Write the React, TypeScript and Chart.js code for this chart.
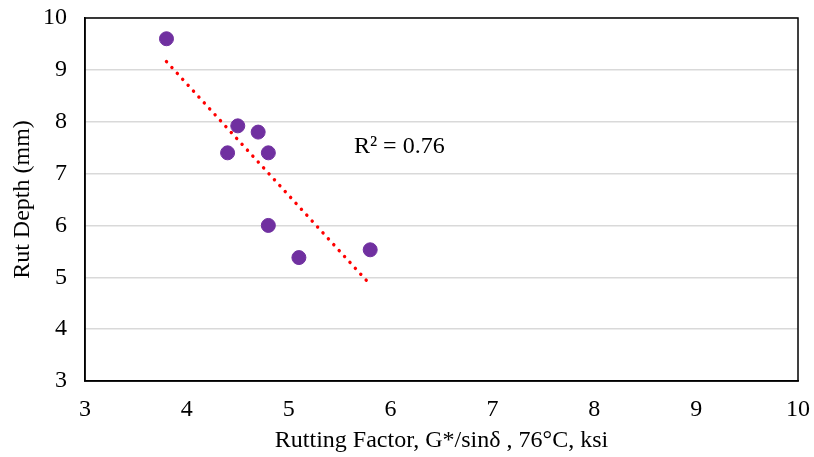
import React, { useEffect, useRef } from "react";
import { Chart, registerables } from "chart.js";

Chart.register(...registerables);

const rutFactor = [3.8, 4.5, 4.7, 4.4, 4.8, 4.8, 5.1, 5.8];
const rutDepth = [9.6, 7.92, 7.8, 7.4, 7.4, 6.0, 5.38, 5.53];
const trendX = [3.8, 5.8];
const trendY = [9.16, 4.86];
const r2Label = "R² = 0.76";
const r2Pos = [5.64, 7.52];

const FONT = '"Liberation Serif", "Times New Roman", serif';
const FS = 24;

const frame = {
  id: "frame",
  beforeDatasetsDraw(chart: any) {
    const { ctx, chartArea: a } = chart;
    ctx.save();
    ctx.strokeStyle = "#000";
    ctx.lineWidth = 1.5;
    ctx.strokeRect(a.left, a.top, a.right - a.left, a.bottom - a.top);
    ctx.restore();
  },
  afterDatasetsDraw(chart: any) {
    const { ctx, scales } = chart;
    ctx.save();
    ctx.fillStyle = "#000";
    ctx.font = `${FS}px ${FONT}`;
    ctx.textAlign = "left";
    ctx.textBaseline = "middle";
    ctx.fillText(r2Label, scales.x.getPixelForValue(r2Pos[0]), scales.y.getPixelForValue(r2Pos[1]));
    ctx.restore();
  },
};

export default function App() {
  const ref = useRef<HTMLCanvasElement>(null);
  useEffect(() => {
    if (!ref.current) return;
    const chart = new Chart(ref.current, {
      type: "scatter",
      data: {
        datasets: [
          {
            label: "Rut Depth",
            data: rutFactor.map((x, i) => ({ x, y: rutDepth[i] })),
            backgroundColor: "#7030A0",
            borderColor: "#7030A0",
            borderWidth: 1,
            pointRadius: 7,
            pointHoverRadius: 7,
            order: 0,
          },
          {
            label: "Trend",
            data: trendX.map((x, i) => ({ x, y: trendY[i] })),
            showLine: true,
            borderColor: "#FF0000",
            borderWidth: 3.4,
            borderDash: [0.1, 7.9],
            borderCapStyle: "round",
            pointRadius: 0,
            order: 1,
          } as any,
        ],
      },
      options: {
        animation: false,
        responsive: false,
        maintainAspectRatio: false,
        layout: { padding: { top: 18, right: 16, left: 0, bottom: 0 } },
        plugins: { legend: { display: false }, tooltip: { enabled: false } },
        scales: {
          x: {
            type: "linear",
            min: 3,
            max: 10,
            ticks: { stepSize: 1, color: "#000", font: { family: FONT, size: FS }, padding: 14 },
            grid: { display: false, drawTicks: false },
            border: { display: true, color: "#000", width: 1.5 },
            title: {
              display: true,
              text: "Rutting Factor, G*/sinδ , 76°C, ksi",
              color: "#000",
              font: { family: FONT, size: FS },
              padding: { top: 4, bottom: 2 },
            },
            afterFit: (s: any) => {
              s.height = 76;
              s.paddingLeft = 0;
              s.paddingRight = 0;
            },
          },
          y: {
            type: "linear",
            min: 3,
            max: 10,
            ticks: { stepSize: 1, color: "#000", font: { family: FONT, size: FS }, padding: 18 },
            grid: { color: "#d9d9d9", lineWidth: 1.5, drawTicks: false },
            border: { display: true, color: "#000", width: 1.5 },
            title: {
              display: true,
              text: "Rut Depth (mm)",
              color: "#000",
              font: { family: FONT, size: FS },
              padding: { top: 8, bottom: 0 },
            },
            afterFit: (s: any) => {
              s.width = 85;
              s.paddingTop = 0;
              s.paddingBottom = 0;
            },
          },
        },
      },
      plugins: [frame],
    });
    return () => chart.destroy();
  }, []);
  return (
    <div style={{ position: "fixed", left: 0, top: 0, width: 814, height: 457, background: "#fff" }}>
      <canvas ref={ref} width={814} height={457} />
    </div>
  );
}
